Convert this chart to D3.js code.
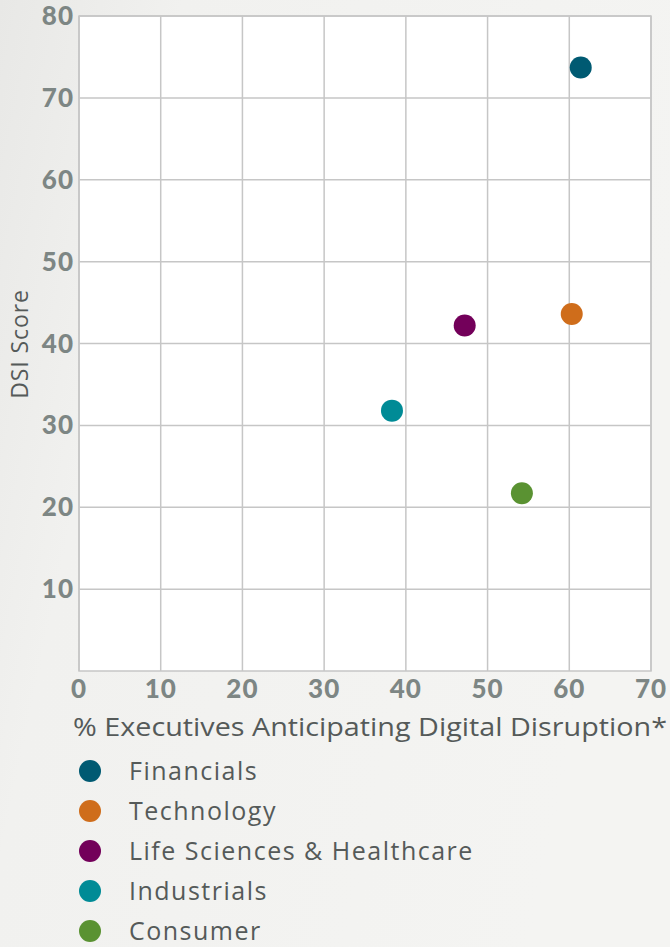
<!DOCTYPE html>
<html>
<head>
<meta charset="utf-8">
<script src="https://cdn.jsdelivr.net/npm/d3@7"></script>
<style>
  body { margin: 0; background: #efefed; }
  svg { display: block; }
</style>
</head>
<body>
<script>
// DSI score vs share of executives expecting disruption

var sectors = ["Financials", "Technology", "Life Sciences & Healthcare", "Industrials", "Consumer"];
var pctExecs = [61.4, 60.3, 47.2, 38.3, 54.2];
var dsiScore = [73.7, 43.6, 42.2, 31.8, 21.7];
var colors = ["#005a72", "#cf6d1b", "#73005a", "#008b96", "#5a9232"];
var xTicks = [0, 10, 20, 30, 40, 50, 60, 70];
var yTicks = [10, 20, 30, 40, 50, 60, 70, 80];

var width = 670,
    height = 947;

var svg = d3.select("body")
    .append("svg")
    .attr("width", width)
    .attr("height", height);

// soft background wash
var defs = svg.append("defs");
var grad = defs.append("linearGradient")
    .attr("id", "bg")
    .attr("x1", "0").attr("y1", "0")
    .attr("x2", "1").attr("y2", "0.3");
grad.append("stop").attr("offset", "0").attr("stop-color", "#e8e8e6");
grad.append("stop").attr("offset", "0.25").attr("stop-color", "#f1f1ef");
grad.append("stop").attr("offset", "1").attr("stop-color", "#f4f4f2");

svg.append("rect")
    .attr("width", width)
    .attr("height", height)
    .attr("fill", "url(#bg)");

var plot = {left: 79, top: 16, right: 651, bottom: 671};

var x = d3.scaleLinear()
    .domain([0, 70])
    .range([plot.left, plot.right]);

var y = d3.scaleLinear()
    .domain([0, 80])
    .range([plot.bottom, plot.top]);

// white plot area
svg.append("rect")
    .attr("x", plot.left)
    .attr("y", plot.top)
    .attr("width", plot.right - plot.left)
    .attr("height", plot.bottom - plot.top)
    .attr("fill", "#ffffff")
    .attr("stroke", "#c6c6c6")
    .attr("stroke-width", 1.5);

// grid lines
svg.selectAll(".vgrid")
    .data(xTicks)
    .enter()
    .append("line")
    .attr("class", "vgrid")
    .attr("x1", function(d){ return x(d); })
    .attr("x2", function(d){ return x(d); })
    .attr("y1", plot.top)
    .attr("y2", plot.bottom)
    .attr("stroke", "#c6c6c6")
    .attr("stroke-width", 1.5);

svg.selectAll(".hgrid")
    .data(yTicks)
    .enter()
    .append("line")
    .attr("class", "hgrid")
    .attr("x1", plot.left)
    .attr("x2", plot.right)
    .attr("y1", function(d){ return y(d); })
    .attr("y2", function(d){ return y(d); })
    .attr("stroke", "#c6c6c6")
    .attr("stroke-width", 1.5);

// tick labels
var tickFont = "Lato, 'DejaVu Sans', sans-serif";

svg.selectAll(".xlab")
    .data(xTicks)
    .enter()
    .append("text")
    .attr("class", "xlab")
    .attr("x", function(d){ return x(d); })
    .attr("y", 698)
    .attr("text-anchor", "middle")
    .style("font-family", tickFont)
    .style("font-weight", "900")
    .style("font-size", "26px")
    .style("letter-spacing", "1px")
    .style("fill", "#7d8684")
    .text(function(d){ return d; });

svg.selectAll(".ylab")
    .data(yTicks)
    .enter()
    .append("text")
    .attr("class", "ylab")
    .attr("x", 74)
    .attr("y", function(d){ return y(d) + 9; })
    .attr("text-anchor", "end")
    .style("font-family", tickFont)
    .style("font-weight", "900")
    .style("font-size", "26px")
    .style("letter-spacing", "1px")
    .style("fill", "#7d8684")
    .text(function(d){ return d; });

// axis titles
svg.append("text")
    .attr("transform", "translate(28,344) rotate(-90)")
    .attr("text-anchor", "middle")
    .style("font-family", "'Open Sans', sans-serif")
    .style("font-size", "23px")
    .style("letter-spacing", "0.9px")
    .style("fill", "#555a59")
    .text("DSI Score");

svg.append("text")
    .attr("x", 73)
    .attr("y", 736)
    .attr("textLength", 594)
    .attr("lengthAdjust", "spacingAndGlyphs")
    .style("font-family", "'Open Sans', sans-serif")
    .style("font-size", "25px")
    .style("fill", "#555a59")
    .text("% Executives Anticipating Digital Disruption*");

// points
var points = sectors.map(function(s, i){
    return {name: s, px: pctExecs[i], score: dsiScore[i], color: colors[i]};
});

svg.selectAll(".dot")
    .data(points)
    .enter()
    .append("circle")
    .attr("class", "dot")
    .attr("cx", function(d){ return x(d.px); })
    .attr("cy", function(d){ return y(d.score); })
    .attr("r", 11)
    .attr("fill", function(d){ return d.color; });

// legend
var legend = svg.selectAll(".legend")
    .data(points)
    .enter()
    .append("g")
    .attr("class", "legend")
    .attr("transform", function(d, i){ return "translate(90," + (771 + i * 40) + ")"; });

legend.append("circle")
    .attr("r", 11)
    .attr("fill", function(d){ return d.color; });

legend.append("text")
    .attr("x", 39)
    .attr("y", 9)
    .style("font-family", "'Open Sans', sans-serif")
    .style("font-size", "25px")
    .style("letter-spacing", "1.5px")
    .style("fill", "#555a59")
    .text(function(d){ return d.name; });
</script>
</body>
</html>
